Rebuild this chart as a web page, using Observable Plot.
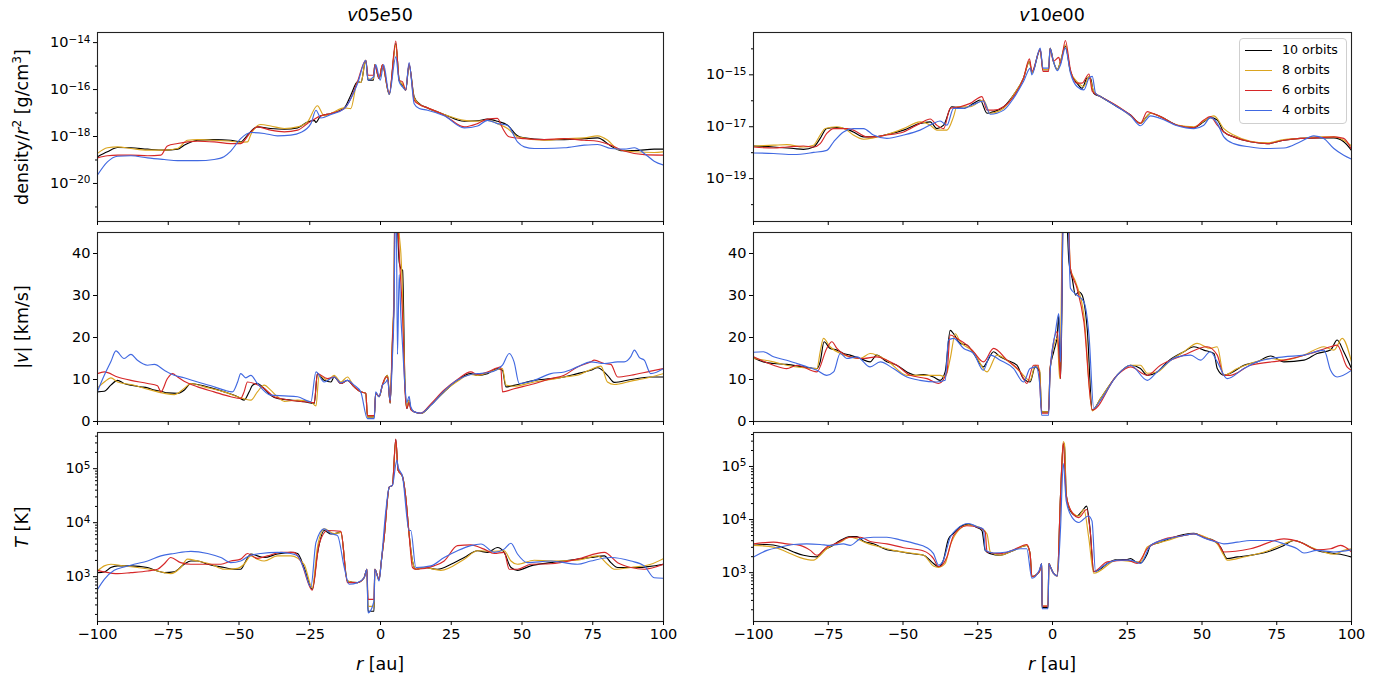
<!DOCTYPE html>
<html>
<head>
<meta charset="utf-8">
<script src="https://cdn.jsdelivr.net/npm/d3@7"></script>
<script src="https://cdn.jsdelivr.net/npm/@observablehq/plot@0.6"></script>
<style>
  body { margin: 0; background: #fff; font-family: "DejaVu Sans", sans-serif; }
  #fig { position: relative; width: 1391px; height: 684px; overflow: hidden; }
  .panel { position: absolute; }
  .txt { position: absolute; white-space: nowrap; color: #000; }
  .ylab { transform-origin: center center; transform: translate(-50%, -50%) rotate(-90deg); }
  .ctr { transform: translate(-50%, -50%); }
  sup { font-size: 70%; vertical-align: 0.55em; line-height: 0; }
  #legend { position: absolute; left: 1239px; top: 38px; width: 106px; height: 84px;
            border: 1px solid #cfcfcf; border-radius: 4px; background: rgba(255,255,255,0.85); }
  .lg-row { position: absolute; left: 0; width: 106px; height: 20px; }
  .lg-line { position: absolute; left: 5px; width: 27px; height: 0; border-top: 1.2px solid; }
  .lg-text { position: absolute; left: 42px; font-size: 12.6px; line-height: 14px; white-space: nowrap; color: #000; }
</style>
</head>
<body>
<div id="fig"></div>
<script>
// Series: orbits simulated, drawn in this order
const seriesNames = ["10 orbits", "8 orbits", "6 orbits", "4 orbits"];
const seriesColors = ["#000000", "#daa520", "#d62728", "#4169e1"];

const xTicks = [-100, -75, -50, -25, 0, 25, 50, 75, 100];

// ---------- v05e50: log10(density / r^2) [g/cm^3] ----------
const logRho05_10 = [[-100,-18.86],[-96.5,-18.65],[-92.9,-18.47],[-88.2,-18.48],[-82.3,-18.54],[-76.4,-18.58],[-71.7,-18.54],[-69.4,-18.37],[-64.6,-18.16],[-58.8,-18.13],[-52.9,-18.16],[-49.4,-18.23],[-47.0,-17.94],[-43.5,-17.59],[-38.8,-17.66],[-34.0,-17.69],[-29.3,-17.63],[-25.8,-17.38],[-23.4,-17.31],[-22.8,-17.40],[-21.1,-17.12],[-17.5,-17.02],[-12.8,-16.78],[-10.5,-16.24],[-8.1,-15.67],[-6.9,-15.70],[-5.2,-14.75],[-4.4,-15.60],[-2.5,-15.60],[-2.0,-14.94],[-0.5,-15.53],[0.7,-14.96],[3.1,-16.21],[5.4,-14.04],[6.6,-15.60],[7.8,-15.82],[8.9,-16.03],[10.1,-14.96],[11.9,-16.31],[13.7,-16.60],[16.6,-16.78],[22.5,-17.06],[29.6,-17.35],[34.3,-17.33],[37.8,-17.26],[41.3,-17.35],[44.9,-17.52],[48.4,-17.97],[50.8,-18.06],[57.8,-18.13],[64.9,-18.13],[72.0,-18.09],[76.7,-18.06],[81.4,-18.40],[84.9,-18.60],[89.7,-18.60],[96.7,-18.54],[100,-18.54]];
const logRho05_8 = [[-100,-18.72],[-96.5,-18.48],[-92.9,-18.44],[-88.2,-18.51],[-82.3,-18.58],[-76.4,-18.58],[-71.7,-18.51],[-68.2,-18.16],[-64.6,-18.13],[-58.8,-18.16],[-52.9,-18.20],[-49.4,-18.25],[-47.0,-18.23],[-45.8,-17.91],[-42.3,-17.49],[-38.8,-17.55],[-34.0,-17.66],[-29.3,-17.59],[-25.8,-17.38],[-22.3,-16.69],[-19.9,-17.12],[-17.5,-17.02],[-12.8,-16.78],[-10.5,-16.81],[-8.1,-15.67],[-6.9,-15.70],[-5.2,-14.75],[-4.4,-15.55],[-2.5,-15.55],[-2.0,-14.94],[-0.5,-15.53],[0.7,-14.96],[3.1,-16.21],[5.4,-14.10],[6.6,-15.60],[7.8,-15.78],[8.9,-16.03],[10.1,-14.96],[11.9,-16.35],[13.7,-16.62],[16.6,-16.78],[22.5,-17.06],[29.6,-17.31],[34.3,-17.35],[37.8,-17.31],[41.3,-17.45],[44.9,-17.66],[48.4,-18.01],[57.8,-18.16],[64.9,-18.09],[72.0,-18.06],[76.7,-17.97],[80.3,-18.16],[83.8,-18.54],[89.7,-18.65],[96.7,-18.68],[100,-18.65]];
const logRho05_6 = [[-100,-18.91],[-96.5,-18.82],[-92.9,-18.79],[-88.2,-18.79],[-82.3,-18.82],[-77.6,-18.79],[-75.3,-18.40],[-71.7,-18.30],[-68.2,-18.23],[-64.6,-18.20],[-58.8,-18.23],[-52.9,-18.30],[-49.4,-18.30],[-45.8,-17.80],[-43.5,-17.59],[-38.8,-17.73],[-34.0,-17.80],[-29.3,-17.73],[-25.8,-17.45],[-23.4,-17.26],[-21.1,-17.12],[-17.5,-17.02],[-12.8,-16.81],[-10.5,-16.38],[-8.1,-15.65],[-5.2,-14.75],[-4.4,-15.39],[-2.5,-15.39],[-2.0,-14.96],[-0.5,-15.53],[0.7,-14.94],[3.1,-16.17],[5.4,-13.94],[6.6,-15.60],[7.8,-15.67],[8.9,-16.03],[10.1,-14.89],[11.9,-16.45],[13.7,-16.64],[16.6,-16.78],[22.5,-17.09],[29.6,-17.59],[34.3,-17.45],[37.8,-17.26],[41.3,-17.23],[43.2,-17.66],[45.4,-18.01],[50.8,-18.09],[57.8,-18.13],[64.9,-18.09],[72.0,-18.16],[76.7,-18.20],[81.4,-18.37],[86.1,-18.62],[93.2,-18.77],[100,-18.79]];
const logRho05_4 = [[-100,-19.64],[-96.5,-19.08],[-92.9,-18.84],[-88.2,-18.82],[-82.3,-18.91],[-76.4,-18.98],[-71.7,-19.03],[-64.6,-19.03],[-58.8,-18.98],[-55.3,-18.86],[-52.9,-18.62],[-49.4,-18.09],[-45.8,-17.83],[-41.1,-17.87],[-36.4,-17.97],[-31.7,-17.94],[-28.2,-17.83],[-24.6,-17.45],[-22.8,-16.88],[-21.1,-17.21],[-17.5,-17.06],[-12.8,-16.81],[-8.1,-15.74],[-5.2,-14.75],[-4.4,-15.60],[-2.5,-15.46],[-1.7,-14.94],[-0.1,-15.60],[1.1,-14.94],[3.1,-16.21],[5.4,-14.61],[6.6,-15.67],[7.8,-15.89],[8.9,-16.03],[10.1,-14.85],[11.9,-16.60],[13.7,-16.81],[16.6,-16.88],[22.5,-17.12],[29.6,-17.63],[34.3,-17.55],[37.8,-17.31],[41.3,-17.45],[44.9,-17.52],[48.4,-18.23],[50.8,-18.44],[54.3,-18.51],[57.8,-18.51],[64.9,-18.48],[72.0,-18.37],[76.7,-18.34],[81.4,-18.51],[86.1,-18.54],[89.7,-18.48],[93.2,-18.72],[96.7,-19.05],[100,-19.22]];

// ---------- v10e00: log10(density / r^2) [g/cm^3] ----------
const logRho10_10 = [[-100,-17.74],[-93.3,-17.78],[-86.6,-17.84],[-83.3,-17.87],[-79.9,-17.78],[-77.7,-17.45],[-75.5,-17.07],[-72.1,-17.03],[-68.8,-17.09],[-66.6,-17.20],[-63.2,-17.39],[-59.9,-17.39],[-55.4,-17.30],[-49.8,-17.13],[-44.3,-16.87],[-40.9,-16.81],[-38.7,-17.07],[-36.4,-16.94],[-33.7,-16.23],[-29.7,-16.29],[-26.4,-16.10],[-24.2,-15.97],[-21.9,-16.48],[-19.7,-16.42],[-16.3,-16.23],[-13.0,-15.77],[-9.7,-15.13],[-7.7,-14.48],[-6.9,-14.93],[-4.1,-14.03],[-3.2,-14.80],[-1.3,-14.80],[-0.8,-13.97],[0.3,-14.48],[1.6,-14.80],[2.7,-14.48],[4.3,-13.90],[6.0,-14.87],[8.2,-15.32],[9.9,-15.52],[11.6,-15.13],[12.7,-15.13],[13.8,-15.71],[16.1,-15.84],[21.6,-16.23],[26.1,-16.55],[29.4,-16.87],[31.7,-16.58],[32.8,-16.48],[36.1,-16.61],[41.7,-16.94],[47.3,-17.03],[50.6,-16.81],[52.8,-16.65],[55.1,-16.74],[57.3,-17.20],[60.6,-17.39],[66.2,-17.58],[71.8,-17.65],[77.4,-17.52],[82.9,-17.45],[88.5,-17.43],[94.1,-17.43],[97.4,-17.58],[100,-17.91]];
const logRho10_8 = [[-100,-17.74],[-93.3,-17.71],[-88.8,-17.69],[-83.3,-17.78],[-79.9,-17.71],[-77.7,-17.32],[-76.0,-17.07],[-72.1,-17.00],[-68.8,-17.13],[-66.6,-17.32],[-63.2,-17.48],[-59.9,-17.43],[-55.4,-17.30],[-49.8,-17.07],[-44.3,-16.81],[-40.9,-16.94],[-38.7,-17.13],[-35.3,-17.13],[-33.1,-16.61],[-32.0,-16.23],[-27.5,-16.23],[-23.1,-15.97],[-20.8,-16.48],[-16.3,-16.29],[-13.0,-15.77],[-9.7,-15.13],[-7.7,-14.48],[-6.9,-14.93],[-4.1,-14.03],[-3.2,-14.80],[-1.3,-14.80],[-0.8,-13.99],[0.3,-14.48],[1.6,-14.80],[2.7,-14.48],[4.3,-13.84],[6.0,-14.87],[8.2,-15.26],[10.5,-15.45],[12.2,-15.06],[13.8,-15.64],[16.1,-15.84],[21.6,-16.20],[26.1,-16.58],[29.4,-16.87],[32.8,-16.48],[36.1,-16.61],[41.7,-16.94],[47.3,-17.00],[50.6,-16.78],[54.0,-16.58],[57.3,-17.07],[60.6,-17.32],[66.2,-17.56],[71.8,-17.62],[77.4,-17.49],[82.9,-17.45],[88.5,-17.39],[94.1,-17.39],[97.4,-17.52],[100,-17.74]];
const logRho10_6 = [[-100,-17.78],[-93.3,-17.82],[-88.8,-17.78],[-83.3,-17.74],[-79.9,-17.78],[-77.7,-17.65],[-75.5,-17.26],[-73.2,-17.07],[-68.8,-17.07],[-66.6,-17.13],[-62.1,-17.39],[-59.9,-17.39],[-55.4,-17.32],[-49.8,-17.20],[-44.3,-16.87],[-40.9,-16.70],[-38.7,-16.94],[-36.4,-17.07],[-34.2,-16.29],[-30.9,-16.23],[-27.5,-16.10],[-23.6,-15.84],[-21.9,-16.36],[-19.7,-16.36],[-16.3,-16.23],[-13.0,-15.84],[-9.7,-15.13],[-7.7,-14.38],[-6.9,-14.87],[-4.1,-14.03],[-3.2,-14.87],[-1.3,-14.87],[-0.8,-13.99],[0.3,-14.48],[2.1,-14.33],[2.7,-14.55],[4.3,-13.68],[6.0,-14.80],[8.2,-15.32],[9.9,-15.32],[12.2,-14.97],[13.3,-15.64],[16.1,-15.84],[21.6,-16.20],[26.1,-16.55],[29.4,-16.87],[31.7,-16.42],[32.8,-16.45],[36.1,-16.61],[41.7,-16.94],[47.3,-17.03],[50.6,-16.74],[52.8,-16.61],[55.1,-16.94],[57.3,-17.20],[60.6,-17.39],[66.2,-17.58],[71.8,-17.65],[77.4,-17.52],[82.9,-17.45],[88.5,-17.43],[94.1,-17.39],[97.4,-17.45],[100,-17.87]];
const logRho10_4 = [[-100,-18.01],[-93.3,-18.03],[-86.6,-18.07],[-79.9,-17.99],[-75.5,-17.91],[-73.2,-17.58],[-69.9,-17.20],[-66.6,-17.07],[-63.2,-17.07],[-59.9,-17.32],[-55.4,-17.45],[-49.8,-17.32],[-44.3,-17.13],[-39.8,-16.87],[-37.6,-16.78],[-35.3,-16.94],[-33.1,-16.29],[-29.7,-16.29],[-26.4,-16.14],[-23.1,-16.01],[-20.8,-16.52],[-16.3,-16.36],[-13.0,-15.90],[-9.7,-15.26],[-7.4,-14.74],[-6.9,-15.00],[-4.1,-13.97],[-3.2,-14.74],[-1.3,-14.74],[-0.8,-13.99],[0.3,-14.48],[1.6,-14.84],[2.7,-14.61],[4.3,-13.97],[6.0,-14.93],[8.2,-15.45],[10.5,-15.58],[12.2,-15.13],[13.3,-15.06],[14.4,-15.71],[16.1,-15.84],[21.6,-16.23],[26.1,-16.58],[29.4,-16.96],[32.8,-16.58],[36.1,-16.68],[41.7,-16.96],[47.3,-17.07],[50.6,-16.94],[52.8,-16.65],[55.1,-16.87],[57.3,-17.39],[60.6,-17.65],[66.2,-17.78],[71.8,-17.84],[77.4,-17.82],[82.9,-17.58],[87.4,-17.35],[90.7,-17.45],[94.1,-17.84],[97.4,-18.10],[100,-18.25]];

// ---------- v05e50: |v| [km/s] ----------
const vel05_10 = [[-100,7.06],[-97.6,7.2],[-95.3,8.65],[-92.9,9.8],[-90.6,9.05],[-88.2,8.65],[-84.7,8.25],[-82.3,8.0],[-79.9,7.46],[-77.6,7.2],[-75.3,6.8],[-71.7,6.7],[-69.4,7.46],[-67.0,9.05],[-64.6,8.8],[-59.9,8.0],[-55.2,7.06],[-50.5,5.9],[-48.2,5.1],[-46.4,7.06],[-45.2,8.65],[-43.5,9.05],[-41.1,7.85],[-38.8,6.27],[-36.4,5.5],[-31.7,5.1],[-27.0,4.7],[-23.4,4.3],[-22.3,11.4],[-19.9,9.8],[-17.5,9.4],[-16.4,10.6],[-14.0,9.05],[-11.7,9.8],[-9.3,8.25],[-7.0,7.06],[-5.2,6.7],[-4.6,1.1],[-2.2,1.1],[-1.7,6.7],[-0.5,5.9],[0.7,8.65],[1.9,10.6],[2.5,11.0],[3.4,4.3],[4.2,18.2],[4.8,30],[5.1,55],[5.8,50],[6.6,38],[7.2,36.4],[7.8,36],[8.6,10],[9.3,3.1],[10.1,5.1],[10.7,3.1],[11.9,2.3],[14.3,1.9],[17.8,3.9],[22.5,7.06],[27.2,9.8],[31.9,11.4],[34.3,11.0],[37.8,11.4],[41.3,12.6],[43.1,12.2],[44.3,8.25],[47.2,8.6],[54.3,9.8],[60.2,10.2],[64.9,10.6],[69.6,11.4],[74.3,12.2],[76.7,12.8],[80.2,11.0],[82.6,9.3],[88.5,10.0],[95.5,10.6],[100,10.6]];
const vel05_8 = [[-100,8.0],[-97.6,9.4],[-95.3,10.4],[-92.9,9.4],[-88.2,8.8],[-82.3,7.7],[-76.4,6.7],[-72.9,6.4],[-69.4,7.85],[-67.0,9.05],[-62.3,8.25],[-55.2,7.06],[-50.5,5.9],[-45.8,5.1],[-43.5,7.06],[-41.1,8.65],[-38.8,7.46],[-36.4,5.9],[-34.0,4.8],[-29.3,5.1],[-24.6,4.7],[-22.8,3.7],[-21.7,11.0],[-18.7,9.8],[-16.4,11.0],[-14.0,9.4],[-11.7,10.6],[-9.3,8.25],[-7.0,7.06],[-5.2,6.7],[-4.6,1.1],[-2.2,1.1],[-1.7,6.7],[-0.5,5.9],[0.7,8.65],[1.9,10.6],[2.5,11.0],[3.4,4.5],[4.2,20],[4.8,32],[5.1,55],[6.0,55],[6.6,45],[7.2,40],[7.8,30],[8.6,10],[9.3,3.5],[10.1,5.1],[10.7,3.0],[11.9,2.3],[14.3,1.9],[17.8,4.0],[22.5,7.2],[27.2,9.6],[31.9,11.2],[34.3,11.0],[37.8,11.6],[41.3,12.4],[43.1,12.6],[44.3,8.7],[47.2,8.4],[54.3,9.4],[60.2,10.0],[64.9,10.6],[69.6,11.0],[74.3,12.4],[77.9,13.2],[80.2,9.4],[82.6,8.8],[88.5,9.6],[95.5,10.6],[100,11.4]];
const vel05_6 = [[-100,11.4],[-97.6,11.8],[-92.9,10.6],[-88.2,9.8],[-82.3,9.05],[-78.8,8.5],[-77.6,7.06],[-75.3,10.2],[-73.5,11.4],[-71.7,10.6],[-69.4,9.6],[-64.6,8.25],[-58.8,7.06],[-52.9,5.9],[-49.4,5.5],[-48.2,7.06],[-47.0,9.4],[-44.6,9.05],[-41.1,7.85],[-37.6,5.9],[-34.0,5.3],[-27.0,4.7],[-23.4,4.5],[-22.3,11.4],[-18.7,10.2],[-16.4,10.6],[-14.0,9.05],[-11.7,9.8],[-9.3,8.25],[-7.0,7.06],[-5.2,6.7],[-4.6,1.4],[-2.2,1.4],[-1.7,6.7],[-0.5,6.0],[0.7,8.8],[1.9,10.6],[2.5,10.5],[3.4,4.5],[4.2,19],[4.8,30],[5.1,55],[5.8,52],[6.6,40],[7.2,33],[7.8,25],[8.6,8],[9.3,3.1],[10.1,4.5],[10.7,2.8],[11.9,2.3],[14.3,2.0],[17.8,4.2],[22.5,7.5],[27.2,10.0],[31.9,11.8],[34.3,11.2],[37.8,11.8],[41.3,12.8],[42.5,13.0],[43.1,7.06],[47.2,7.8],[54.3,9.0],[60.2,10.2],[64.9,11.0],[69.6,13.0],[74.3,14.2],[75.5,14.6],[79.1,13.8],[81.4,13.6],[83.8,10.6],[88.5,11.0],[95.5,12.0],[100,12.6]];
const vel05_4 = [[-100,7.2],[-97.6,11.0],[-95.3,14.2],[-93.5,16.8],[-90.6,15.0],[-88.2,16.0],[-85.9,14.6],[-82.3,13.4],[-79.9,13.6],[-76.4,12.2],[-72.9,11.0],[-69.4,10.4],[-64.6,9.4],[-59.9,8.5],[-55.2,7.46],[-52.3,7.06],[-50.5,9.4],[-49.4,11.4],[-47.6,10.4],[-45.8,11.0],[-43.5,9.05],[-38.8,6.27],[-34.0,6.1],[-29.3,5.9],[-24.6,4.7],[-22.8,11.8],[-19.9,9.4],[-16.4,10.6],[-14.0,9.2],[-11.7,9.8],[-9.3,8.65],[-7.0,7.06],[-4.6,0.7],[-2.2,0.7],[-1.7,7.06],[-0.5,5.9],[0.7,8.65],[1.9,9.4],[2.5,10.0],[3.4,5.0],[4.2,15],[4.8,28],[5.1,45],[5.5,55],[6.0,16],[6.6,35],[7.2,25],[7.8,18],[8.6,9],[9.3,4.5],[10.1,6.0],[10.7,3.5],[11.9,2.3],[14.3,2.0],[17.8,3.9],[22.5,7.3],[27.2,9.9],[31.9,11.2],[34.3,11.4],[37.8,11.6],[41.3,12.4],[43.1,13.4],[45.5,16.2],[47.2,14.2],[49.0,9.05],[54.3,9.8],[60.2,11.4],[64.9,11.8],[69.6,13.0],[74.3,14.2],[79.1,13.8],[83.8,14.2],[86.1,14.2],[88.5,15.5],[89.7,17.0],[91.5,15.2],[93.2,14.6],[95.5,11.4],[100,12.6]];

// ---------- v10e00: |v| [km/s] ----------
const vel10_10 = [[-100,15.2],[-96.7,14.2],[-93.3,13.8],[-88.9,13.6],[-83.3,13.0],[-78.8,12.6],[-77.7,14.2],[-76.4,19.0],[-74.4,17.4],[-72.1,17.0],[-69.9,16.2],[-67.7,15.8],[-64.3,15.0],[-61.0,14.2],[-58.8,15.8],[-55.4,14.2],[-52.1,13.4],[-48.7,11.8],[-45.4,11.0],[-43.1,11.2],[-39.8,10.6],[-37.6,9.8],[-35.9,11.8],[-34.2,21.7],[-33.1,20.9],[-30.9,18.6],[-28.6,18.2],[-26.4,16.2],[-23.1,13.0],[-21.9,14.2],[-19.7,16.6],[-17.5,15.4],[-15.2,14.6],[-11.9,13.4],[-9.7,10.2],[-7.5,9.4],[-5.8,13.0],[-4.3,11.8],[-3.6,2.3],[-1.3,2.3],[-0.8,12.6],[0.4,16.6],[1.6,20.6],[2.1,25.3],[2.7,10.2],[3.2,30.1],[3.6,55],[4.3,55],[5.5,38.0],[6.6,34.0],[7.7,30.1],[8.8,30.9],[9.9,30.1],[11.6,22.1],[13.3,2.7],[16.1,5.5],[21.6,11.0],[26.1,13.4],[29.4,12.6],[31.7,11.0],[35.0,11.8],[38.4,14.2],[43.9,16.6],[47.3,17.8],[50.6,17.0],[54.0,16.2],[55.1,12.6],[57.3,11.0],[59.5,11.5],[64.0,13.4],[68.4,14.2],[73.0,15.6],[77.4,14.2],[84.1,14.6],[88.5,16.2],[93.0,17.0],[95.2,19.4],[97.4,16.6],[100,12.6]];
const vel10_8 = [[-100,15.0],[-93.3,14.2],[-88.9,13.4],[-83.3,12.8],[-78.8,12.6],[-77.7,16.6],[-76.6,19.8],[-74.4,17.8],[-71.0,16.2],[-67.7,15.4],[-64.3,15.0],[-61.0,16.2],[-55.4,14.6],[-48.7,11.0],[-42.0,11.0],[-37.6,11.0],[-35.9,10.6],[-34.2,15.0],[-32.5,20.9],[-30.9,19.0],[-26.4,16.6],[-21.9,11.8],[-18.6,15.8],[-15.2,14.6],[-10.8,11.8],[-7.5,9.8],[-5.8,13.4],[-4.3,12.2],[-3.6,2.3],[-1.3,2.3],[-0.8,12.6],[1.6,19.8],[2.4,10.2],[3.6,55],[4.9,55],[6.0,36.4],[7.7,33.3],[10.5,25.3],[13.3,2.5],[16.1,5.5],[21.6,11.0],[26.1,13.4],[29.4,13.4],[31.7,11.5],[35.0,11.8],[39.5,14.6],[43.9,16.6],[48.4,18.6],[52.8,17.4],[55.1,17.8],[57.3,11.0],[61.8,12.6],[66.2,13.8],[73.0,15.0],[77.4,14.6],[84.1,15.8],[90.8,17.8],[94.1,17.0],[96.9,19.8],[100,14.2]];
const vel10_6 = [[-100,15.4],[-93.3,13.4],[-88.9,12.6],[-85.5,13.4],[-78.8,11.8],[-75.5,17.4],[-73.8,19.0],[-72.1,17.4],[-67.7,15.4],[-63.2,15.0],[-58.8,15.4],[-55.4,14.6],[-52.1,13.4],[-47.6,11.0],[-42.0,10.2],[-38.1,9.05],[-35.3,11.8],[-34.2,20.6],[-32.0,19.8],[-28.6,18.2],[-26.4,16.6],[-23.1,14.2],[-19.7,17.4],[-15.2,14.6],[-10.8,11.8],[-8.6,9.05],[-6.3,13.4],[-4.7,13.4],[-3.6,2.0],[-1.3,2.0],[-0.8,12.6],[1.6,21.4],[2.7,10.2],[3.6,55],[4.9,55],[6.0,36.4],[8.2,31.7],[10.5,23.7],[13.3,2.7],[21.6,11.0],[26.1,13.0],[31.7,11.0],[36.1,13.4],[43.9,15.8],[51.7,17.8],[55.1,15.8],[57.3,11.0],[59.5,11.0],[66.2,13.4],[77.4,14.6],[86.3,16.2],[93.0,17.8],[95.2,18.2],[98.5,13.0],[100,12.2]];
const vel10_4 = [[-100,16.5],[-96.7,16.6],[-93.3,15.4],[-88.9,14.6],[-83.3,13.3],[-78.8,12.2],[-75.5,11.0],[-73.2,11.8],[-71.0,16.2],[-68.8,15.0],[-65.4,15.4],[-61.0,13.0],[-57.6,14.2],[-53.2,12.6],[-48.7,10.6],[-44.3,9.8],[-38.7,9.4],[-35.9,9.8],[-34.8,19.4],[-33.1,19.8],[-29.7,17.4],[-26.4,16.2],[-23.1,12.2],[-20.8,15.8],[-17.5,14.6],[-13.0,12.6],[-9.7,9.4],[-7.5,12.6],[-5.5,13.0],[-4.3,9.05],[-3.6,1.5],[-1.3,1.5],[-0.8,11.8],[1.0,21.4],[2.1,25.7],[2.7,14.2],[3.8,55],[4.9,55],[6.0,31.7],[8.2,30.1],[10.5,28.5],[12.2,20.6],[13.8,3.1],[16.1,5.1],[21.6,11.0],[26.1,13.4],[31.7,9.8],[35.0,11.8],[41.7,15.4],[46.2,15.8],[49.5,14.6],[52.8,16.6],[55.1,14.2],[58.4,10.2],[64.0,12.6],[68.4,14.2],[77.4,15.4],[84.1,15.8],[90.8,17.0],[93.0,12.2],[95.2,10.6],[100,12.2]];

// ---------- v05e50: log10(T) [K] ----------
const logT05_10 = [[-100,3.075],[-97.6,3.087],[-95.3,3.17],[-92.9,3.20],[-88.2,3.20],[-82.3,3.17],[-78.8,3.105],[-76.4,3.075],[-72.9,3.09],[-69.4,3.23],[-67.0,3.29],[-64.6,3.29],[-61.1,3.23],[-55.2,3.17],[-51.7,3.137],[-49.4,3.137],[-47.6,3.29],[-45.8,3.42],[-43.5,3.385],[-41.1,3.355],[-36.4,3.42],[-31.7,3.45],[-29.3,3.43],[-27.0,3.17],[-24.1,2.763],[-22.3,3.42],[-19.9,3.855],[-17.5,3.79],[-14.0,3.82],[-11.7,2.92],[-8.1,2.89],[-5.8,2.98],[-4.8,3.137],[-4.4,2.36],[-2.3,2.36],[-2.0,3.137],[-0.5,2.95],[0.3,3.29],[1.3,3.73],[3.1,4.66],[4.2,4.69],[5.4,5.54],[6.2,4.975],[7.8,4.85],[8.9,4.48],[10.1,3.79],[11.3,3.29],[12.5,3.137],[15.4,3.17],[20.1,3.137],[24.9,3.23],[29.6,3.355],[34.3,3.48],[37.8,3.45],[41.3,3.54],[43.7,3.45],[46.1,3.17],[48.4,3.118],[53.1,3.20],[60.2,3.26],[69.6,3.325],[74.3,3.355],[79.1,3.385],[81.4,3.26],[83.8,3.17],[90.8,3.17],[100,3.23]];
const logT05_8 = [[-100,3.105],[-97.6,3.20],[-95.3,3.23],[-90.6,3.20],[-85.9,3.17],[-81.2,3.137],[-76.4,3.075],[-74.1,3.056],[-70.6,3.17],[-68.2,3.325],[-64.6,3.29],[-59.9,3.23],[-55.2,3.137],[-50.5,3.155],[-48.2,3.23],[-45.8,3.385],[-43.5,3.325],[-41.1,3.29],[-36.4,3.385],[-31.7,3.385],[-27.0,3.23],[-24.1,2.795],[-22.3,3.54],[-19.9,3.885],[-16.4,3.80],[-14.0,3.82],[-11.7,2.92],[-8.1,2.89],[-5.8,2.98],[-4.8,3.137],[-4.4,2.45],[-2.3,2.45],[-2.0,3.137],[-0.5,2.95],[0.3,3.29],[1.3,3.73],[3.1,4.66],[4.2,4.69],[5.4,5.50],[6.2,4.975],[7.8,4.85],[8.9,4.48],[10.1,3.79],[11.3,3.29],[12.5,3.137],[15.4,3.17],[21.3,3.118],[29.6,3.325],[34.3,3.48],[39.0,3.47],[43.7,3.48],[46.1,3.29],[48.4,3.23],[54.3,3.305],[60.2,3.29],[69.6,3.305],[76.7,3.385],[80.2,3.23],[82.6,3.137],[88.5,3.17],[95.5,3.23],[100,3.336]];
const logT05_6 = [[-100,3.118],[-97.6,3.09],[-92.9,3.056],[-88.2,3.075],[-82.3,3.105],[-78.8,3.137],[-76.4,3.24],[-74.1,3.355],[-70.6,3.26],[-67.0,3.23],[-62.3,3.23],[-56.4,3.23],[-52.9,3.29],[-49.4,3.325],[-47.0,3.43],[-43.5,3.34],[-40.0,3.385],[-35.2,3.45],[-30.5,3.45],[-28.2,3.29],[-24.1,2.75],[-21.7,3.605],[-18.7,3.855],[-14.0,3.84],[-11.7,2.89],[-8.1,2.89],[-5.8,2.98],[-4.8,3.137],[-4.4,2.58],[-2.3,2.58],[-2.0,3.137],[-0.5,2.95],[0.3,3.29],[1.3,3.73],[3.1,4.66],[4.2,4.69],[5.4,5.55],[6.2,4.975],[7.8,4.85],[8.9,4.48],[10.1,3.79],[11.3,3.17],[12.5,3.137],[18.9,3.20],[22.5,3.29],[27.2,3.575],[31.9,3.59],[36.6,3.51],[40.2,3.43],[43.7,3.45],[45.5,3.137],[48.4,3.137],[53.1,3.23],[60.2,3.24],[69.6,3.325],[79.1,3.45],[83.8,3.26],[88.5,3.17],[93.2,3.137],[100,3.23]];
const logT05_4 = [[-100,2.763],[-97.6,2.95],[-94.1,3.118],[-90.6,3.18],[-87.1,3.23],[-82.3,3.29],[-77.6,3.385],[-72.9,3.43],[-67.0,3.47],[-61.1,3.43],[-56.4,3.355],[-52.9,3.26],[-49.4,3.29],[-47.0,3.37],[-42.3,3.43],[-36.4,3.45],[-31.7,3.43],[-29.3,3.385],[-27.0,3.137],[-24.6,2.807],[-22.8,3.635],[-19.9,3.885],[-17.5,3.80],[-15.2,3.76],[-12.8,3.17],[-11.1,2.86],[-8.1,2.89],[-5.8,2.98],[-4.8,3.137],[-4.4,2.33],[-2.3,2.545],[-2.0,3.137],[-0.5,2.92],[0.3,3.29],[1.9,4.23],[3.1,4.66],[4.2,4.69],[5.8,5.16],[6.2,5.04],[7.8,4.85],[10.1,3.855],[10.7,3.855],[12.5,3.17],[17.8,3.20],[22.5,3.355],[27.2,3.48],[31.9,3.575],[35.5,3.605],[40.2,3.45],[43.7,3.51],[46.1,3.62],[48.4,3.42],[51.9,3.26],[60.2,3.29],[69.6,3.23],[74.3,3.29],[81.4,3.355],[88.5,3.29],[93.2,3.20],[96.7,2.98],[100,2.97]];

// ---------- v10e00: log10(T) [K] ----------
const logT10_10 = [[-100,3.513],[-95.5,3.531],[-91.1,3.494],[-86.6,3.39],[-83.3,3.327],[-78.8,3.296],[-76.6,3.42],[-74.4,3.482],[-71.0,3.605],[-67.7,3.68],[-65.4,3.68],[-63.2,3.593],[-59.9,3.543],[-55.4,3.432],[-52.1,3.408],[-48.7,3.37],[-45.4,3.346],[-43.1,3.327],[-39.8,3.173],[-38.1,3.111],[-36.5,3.235],[-34.8,3.636],[-33.1,3.74],[-30.9,3.865],[-28.1,3.914],[-25.3,3.852],[-23.6,3.79],[-22.5,3.42],[-20.8,3.358],[-17.5,3.327],[-13.0,3.42],[-8.6,3.513],[-7.5,3.358],[-6.9,2.926],[-4.4,3.019],[-3.6,3.173],[-3.5,2.34],[-1.5,2.34],[-1.2,3.173],[-0.7,3.111],[0.3,2.99],[1.6,2.94],[2.7,4.47],[3.6,5.395],[4.0,5.43],[4.6,4.47],[6.0,4.16],[8.2,4.068],[9.9,4.16],[11.4,4.253],[12.5,3.852],[13.8,3.019],[15.5,3.05],[18.3,3.173],[21.6,3.247],[25.0,3.247],[26.1,3.266],[27.8,3.204],[29.4,3.185],[31.7,3.358],[32.8,3.513],[36.1,3.574],[40.6,3.667],[43.9,3.716],[47.3,3.74],[50.6,3.667],[53.9,3.605],[56.2,3.482],[58.4,3.266],[61.8,3.296],[66.2,3.327],[71.8,3.39],[77.4,3.513],[80.7,3.605],[84.1,3.543],[88.5,3.42],[93.0,3.37],[96.3,3.346],[100,3.296]];
const logT10_8 = [[-100,3.513],[-93.3,3.482],[-88.9,3.39],[-84.4,3.284],[-79.9,3.235],[-77.7,3.327],[-75.5,3.451],[-71.0,3.574],[-67.7,3.667],[-65.4,3.636],[-62.1,3.556],[-57.6,3.482],[-53.2,3.42],[-47.6,3.37],[-43.1,3.327],[-39.8,3.124],[-38.1,3.099],[-35.9,3.173],[-34.2,3.513],[-32.0,3.76],[-28.1,3.90],[-24.2,3.852],[-21.9,3.73],[-20.8,3.39],[-17.5,3.327],[-13.0,3.42],[-8.6,3.513],[-7.5,3.358],[-6.9,2.926],[-4.4,3.019],[-3.6,3.173],[-3.5,2.37],[-1.5,2.37],[-1.2,3.173],[-0.7,3.111],[0.3,2.99],[1.6,2.94],[2.7,4.47],[3.6,5.47],[4.0,5.43],[4.6,4.44],[6.6,4.13],[8.8,4.068],[10.5,4.19],[12.1,3.667],[13.8,2.988],[21.6,3.235],[27.8,3.204],[29.4,3.204],[31.7,3.482],[38.4,3.605],[43.9,3.70],[47.3,3.73],[51.7,3.655],[55.1,3.543],[57.3,3.327],[58.4,3.235],[64.0,3.296],[71.8,3.408],[77.4,3.543],[80.7,3.605],[86.3,3.482],[90.7,3.39],[94.1,3.346],[97.4,3.42],[100,3.451]];
const logT10_6 = [[-100,3.543],[-93.3,3.574],[-88.9,3.543],[-84.4,3.513],[-81.0,3.42],[-78.8,3.327],[-75.5,3.482],[-72.1,3.556],[-67.7,3.667],[-64.3,3.667],[-61.0,3.587],[-55.4,3.543],[-49.8,3.47],[-43.1,3.408],[-39.8,3.266],[-38.1,3.111],[-35.3,3.296],[-33.1,3.70],[-28.6,3.883],[-24.2,3.84],[-22.5,3.76],[-21.9,3.39],[-17.5,3.358],[-13.0,3.432],[-8.6,3.531],[-7.5,3.358],[-6.9,2.926],[-4.4,3.019],[-3.6,3.173],[-3.5,2.37],[-1.5,2.37],[-1.2,3.173],[-0.7,3.111],[0.3,2.99],[1.6,2.94],[2.7,4.47],[3.6,5.445],[4.6,4.44],[6.6,4.13],[8.8,4.037],[11.4,4.19],[12.7,3.73],[13.8,3.019],[18.3,3.204],[25.0,3.235],[28.3,3.173],[31.7,3.451],[36.1,3.605],[43.9,3.70],[47.3,3.73],[51.7,3.636],[55.1,3.574],[57.3,3.39],[66.2,3.451],[77.4,3.636],[82.9,3.574],[88.5,3.432],[93.0,3.451],[96.3,3.513],[100,3.39]];
const logT10_4 = [[-100,3.296],[-95.5,3.42],[-91.1,3.482],[-86.6,3.531],[-82.2,3.543],[-77.7,3.531],[-74.4,3.513],[-69.9,3.543],[-67.7,3.513],[-64.3,3.636],[-59.9,3.667],[-55.4,3.667],[-51.0,3.618],[-46.5,3.556],[-42.0,3.47],[-39.8,3.358],[-38.1,3.142],[-36.5,3.235],[-34.2,3.667],[-32.0,3.82],[-28.1,3.926],[-25.3,3.865],[-23.1,3.82],[-22.5,3.42],[-19.7,3.37],[-15.2,3.39],[-10.8,3.451],[-8.6,3.451],[-6.9,2.895],[-4.4,3.05],[-3.6,3.173],[-3.5,2.32],[-1.5,2.32],[-1.2,3.173],[-0.7,3.111],[0.3,2.99],[1.6,2.94],[2.7,3.852],[3.6,5.056],[4.6,4.346],[6.6,4.037],[8.8,3.945],[12.0,4.068],[13.2,3.975],[14.4,3.019],[16.6,3.111],[21.6,3.235],[26.1,3.235],[29.4,3.173],[32.8,3.513],[38.4,3.636],[43.9,3.70],[47.3,3.73],[50.6,3.655],[55.1,3.574],[57.3,3.543],[61.8,3.574],[66.2,3.605],[72.9,3.605],[77.4,3.543],[81.8,3.451],[84.1,3.37],[88.5,3.42],[94.1,3.39],[100,3.432]];

// ---------- helpers ----------
const SVGNS = "http://www.w3.org/2000/svg";
const powerLabel = d => "10^" + Math.round(Math.log10(d));
const minusFormat = d => d < 0 ? "\u2212" + Math.abs(d) : String(d);
const fromLog = pairs => pairs.map(([r, lg]) => ({r, v: 10 ** lg}));
const fromLin = pairs => pairs.map(([r, v]) => ({r, v}));
const decades = (a, b) => d3.range(a, b + 1).map(e => 10 ** e);
const minorLog = (a, b) => d3.range(a, b).flatMap(e => d3.range(2, 10).map(m => m * 10 ** e));

// Turn "10^-14" tick labels into a base with a raised exponent
function raiseExponents(svg) {
  svg.querySelectorAll("text").forEach(t => {
    const s = t.textContent;
    if (!s.startsWith("10^")) return;
    t.textContent = "10";
    const ts = document.createElementNS(SVGNS, "tspan");
    ts.setAttribute("dy", "-0.45em");
    ts.setAttribute("font-size", "0.72em");
    ts.textContent = s.slice(3).replace("-", "\u2212");
    t.appendChild(ts);
  });
}

const ML = 70, MR = 6, MT = 6, MB = 36;
const cols = [{x: 97, w: 566}, {x: 753, w: 598}];
const rows = [{y: 32, h: 189}, {y: 232, h: 189}, {y: 432, h: 189}];

const panels = [
  {col: 0, row: 0, series: [logRho05_10, logRho05_8, logRho05_6, logRho05_4].map(fromLog),
   y: {type: "log", domain: [10 ** -21.62, 10 ** -13.57]}, major: [1e-20, 1e-18, 1e-16, 1e-14], minor: decades(-21, -13), fmt: powerLabel},
  {col: 1, row: 0, series: [logRho10_10, logRho10_8, logRho10_6, logRho10_4].map(fromLog),
   y: {type: "log", domain: [10 ** -20.65, 10 ** -13.37]}, major: [1e-19, 1e-17, 1e-15], minor: decades(-20, -14), fmt: powerLabel},
  {col: 0, row: 1, series: [vel05_10, vel05_8, vel05_6, vel05_4].map(fromLin),
   y: {type: "linear", domain: [0, 45]}, major: [0, 10, 20, 30, 40], minor: [], fmt: d => String(d)},
  {col: 1, row: 1, series: [vel10_10, vel10_8, vel10_6, vel10_4].map(fromLin),
   y: {type: "linear", domain: [0, 45]}, major: [0, 10, 20, 30, 40], minor: [], fmt: d => String(d)},
  {col: 0, row: 2, series: [logT05_10, logT05_8, logT05_6, logT05_4].map(fromLog),
   y: {type: "log", domain: [10 ** 2.17, 10 ** 5.67]}, major: [1e3, 1e4, 1e5], minor: minorLog(2, 6), fmt: powerLabel},
  {col: 1, row: 2, series: [logT10_10, logT10_8, logT10_6, logT10_4].map(fromLog),
   y: {type: "log", domain: [10 ** 2.08, 10 ** 5.64]}, major: [1e3, 1e4, 1e5], minor: minorLog(2, 6), fmt: powerLabel}
];

const fig = document.getElementById("fig");

for (const p of panels) {
  const c = cols[p.col], rw = rows[p.row];
  const [lo, hi] = p.y.domain;
  const minor = p.minor.filter(v => v >= lo && v <= hi && !p.major.includes(v));
  const bottom = p.row === 2;
  const chart = Plot.plot({
    width: c.w + ML + MR,
    height: rw.h + MT + MB,
    marginLeft: ML, marginRight: MR, marginTop: MT, marginBottom: MB,
    x: {domain: [-100, 100]},
    y: p.y,
    style: {fontFamily: "DejaVu Sans, sans-serif", fontSize: "14.5px", color: "#000", background: "transparent", overflow: "visible"},
    marks: [
      ...p.series.map((d, i) => Plot.line(d, {x: "r", y: "v", stroke: seriesColors[i], strokeWidth: 1.15, curve: "monotone-x", clip: true})),
      Plot.frame({stroke: "#222", strokeWidth: 1.1}),
      Plot.axisY({ticks: p.major, tickSize: 4, tickPadding: 3, tickFormat: p.fmt, label: null}),
      minor.length ? Plot.axisY({ticks: minor, tickSize: 2, tickFormat: () => "", label: null}) : null,
      Plot.axisX({ticks: xTicks, tickSize: 4, tickPadding: 3, tickFormat: bottom ? minusFormat : () => "", label: null})
    ]
  });
  raiseExponents(chart);
  const holder = document.createElement("div");
  holder.className = "panel";
  holder.style.left = (c.x - ML) + "px";
  holder.style.top = (rw.y - MT) + "px";
  holder.appendChild(chart);
  fig.appendChild(holder);
}

// Titles and axis labels
const addText = (html, x, y, cls, size) => {
  const el = document.createElement("div");
  el.className = "txt " + cls;
  el.style.left = x + "px";
  el.style.top = y + "px";
  el.style.fontSize = size + "px";
  el.innerHTML = html;
  fig.appendChild(el);
};
addText("<i>v</i>05<i>e</i>50", 380, 15, "ctr", 17.5);
addText("<i>v</i>10<i>e</i>00", 1052, 15, "ctr", 17.5);
addText("density/<i>r</i><sup>2</sup> [g/cm<sup>3</sup>]", 22, 127, "ylab", 17.5);
addText("|<i>v</i>| [km/s]", 22, 327, "ylab", 17.5);
addText("<i>T</i> [K]", 22, 527, "ylab", 17.5);
addText("<i>r</i> [au]", 380, 664, "ctr", 17.5);
addText("<i>r</i> [au]", 1052, 664, "ctr", 17.5);

// Legend
const legend = document.createElement("div");
legend.id = "legend";
seriesNames.forEach((name, i) => {
  const row = document.createElement("div");
  row.className = "lg-row";
  row.style.top = (2 + i * 20) + "px";
  row.innerHTML = `<div class="lg-line" style="top:9px;border-color:${seriesColors[i]}"></div><div class="lg-text" style="top:2px">${name}</div>`;
  legend.appendChild(row);
});
fig.appendChild(legend);
</script>
</body>
</html>
